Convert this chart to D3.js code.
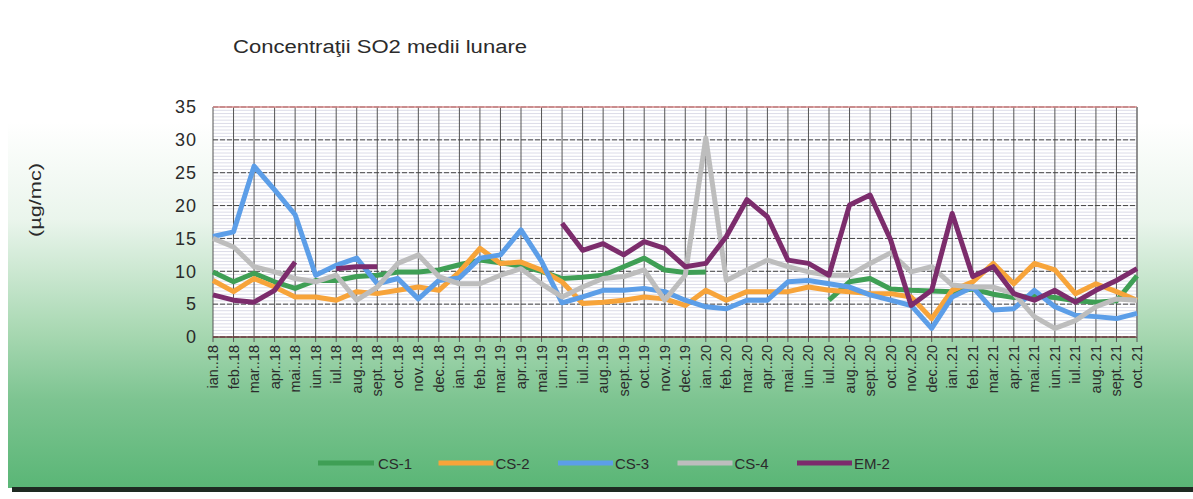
<!DOCTYPE html>
<html>
<head>
<meta charset="utf-8">
<script src="https://cdn.jsdelivr.net/npm/d3@7"></script>
<style>
  body { margin: 0; background: #fff; }
  text { font-family: "Liberation Sans", Arial, sans-serif; fill: #2b2b2b; }
</style>
</head>
<body>
<div class="graph-section"></div>
<script>
var months = ["ian..18","feb..18","mar..18","apr..18","mai..18","iun..18","iul..18","aug..18","sept..18","oct..18","nov..18","dec..18",
  "ian..19","feb..19","mar..19","apr..19","mai..19","iun..19","iul..19","aug..19","sept..19","oct..19","nov..19","dec..19",
  "ian..20","feb..20","mar..20","apr..20","mai..20","iun..20","iul..20","aug..20","sept..20","oct..20","nov..20","dec..20",
  "ian..21","feb..21","mar..21","apr..21","mai..21","iun..21","iul..21","aug..21","sept..21","oct..21"];

var cs1 = [9.9,8.4,9.7,8.4,7.4,8.6,8.6,9.2,9.4,9.9,9.9,10.2,
  11.0,11.7,11.3,10.8,10.0,8.9,9.1,9.4,10.7,12.0,10.2,9.8,
  9.9,null,null,null,null,null,5.6,8.4,8.9,7.3,7.1,7.0,
  6.9,7.3,6.5,6.0,6.2,6.0,5.5,5.3,5.5,9.3];
var cs2 = [8.6,6.9,8.9,7.6,6.1,6.1,5.6,6.9,6.6,7.1,7.6,7.1,
  9.9,13.5,11.2,11.4,10.2,8.4,5.1,5.3,5.6,6.1,5.8,4.8,
  7.1,5.6,6.9,6.9,6.9,7.6,7.1,6.9,6.6,6.6,6.1,2.8,
  7.1,8.4,11.2,8.1,11.2,10.2,6.6,8.1,6.9,5.6];
var cs3 = [15.3,16.0,26.0,22.4,18.6,9.4,10.9,12.0,8.1,8.9,5.8,8.6,
  9.0,12.0,12.5,16.3,11.5,5.2,6.1,7.1,7.1,7.4,6.9,5.6,
  4.6,4.3,5.6,5.6,8.4,8.6,8.1,7.6,6.4,5.6,4.8,1.3,
  6.1,7.6,4.1,4.3,7.1,4.6,3.3,3.1,2.8,3.6];
var cs4 = [15.0,13.7,10.7,9.9,8.9,8.4,9.4,5.6,7.6,11.2,12.5,9.2,
  8.1,8.1,9.4,10.4,8.1,6.1,7.6,8.9,9.2,10.2,5.6,9.4,
  30.3,8.6,10.2,11.7,10.7,9.9,9.4,9.4,11.2,12.8,9.9,10.7,
  7.9,7.6,7.6,6.6,3.1,1.3,2.5,4.6,5.8,5.6];
var em2 = [6.4,5.6,5.3,7.1,11.4,null,10.4,10.7,10.7,null,null,null,
  null,null,null,null,null,17.3,13.2,14.2,12.5,14.5,13.5,10.7,
  11.2,15.3,20.9,18.3,11.7,11.2,9.4,20.1,21.6,14.8,4.8,7.1,
  18.8,9.2,10.7,6.6,5.6,7.1,5.3,7.1,8.6,10.4];

var seriesNames = ["CS-1","CS-2","CS-3","CS-4","EM-2"];
var seriesColors = ["#3f9f55","#f7a43a","#5c9ee8","#bdbdbd","#7c2c6c"];
var seriesValues = [cs1, cs2, cs3, cs4, em2];
var yTicks = [0,5,10,15,20,25,30,35];

var screen = {width:1193, height:499};
var margins = {top:107, left:213, right:56, bottom:162};

var graphWidth = screen.width - margins.left - margins.right;
var graphHeight = screen.height - margins.top - margins.bottom;

var svg = d3.select(".graph-section")
            .append("svg")
            .attr("width", screen.width)
            .attr("height", screen.height);

// page background: white fading into green
var defs = svg.append("defs");
var grad = defs.append("linearGradient")
               .attr("id", "bg")
               .attr("x1", 0).attr("y1", 0).attr("x2", 0).attr("y2", 1);
grad.append("stop").attr("offset", "0%").attr("stop-color", "#ffffff");
grad.append("stop").attr("offset", "25%").attr("stop-color", "#ffffff");
grad.append("stop").attr("offset", "45%").attr("stop-color", "#eaf5ec");
grad.append("stop").attr("offset", "68%").attr("stop-color", "#a8d8b2");
grad.append("stop").attr("offset", "82%").attr("stop-color", "#7dc491");
grad.append("stop").attr("offset", "100%").attr("stop-color", "#5ab676");

svg.append("rect")
   .attr("x", 8)
   .attr("width", screen.width - 8)
   .attr("height", 488)
   .attr("fill", "url(#bg)");
svg.append("rect")
   .attr("x", 12)
   .attr("y", 487)
   .attr("width", screen.width - 12)
   .attr("height", 5)
   .attr("fill", "#1e2a22");

var xScale = d3.scalePoint()
               .domain(d3.range(months.length))
               .range([0, graphWidth]);

var yScale = d3.scaleLinear()
               .domain([0, 35])
               .range([graphHeight, 0]);

var plotLand = svg.append("g")
                  .attr("transform", "translate(" + margins.left + "," + margins.top + ")");

plotLand.append("rect")
        .attr("width", graphWidth)
        .attr("height", graphHeight)
        .attr("fill", "#ffffff");

// minor horizontal lines
plotLand.selectAll(".minor")
        .data(d3.range(0, 35.01, 0.5))
        .enter()
        .append("line")
        .attr("x1", 0).attr("x2", graphWidth)
        .attr("y1", function(d){return yScale(d);})
        .attr("y2", function(d){return yScale(d);})
        .attr("stroke", "#dcdce8")
        .attr("stroke-width", 1);

// vertical grid
plotLand.selectAll(".vgrid")
        .data(d3.range(months.length))
        .enter()
        .append("line")
        .attr("x1", function(d){return xScale(d);})
        .attr("x2", function(d){return xScale(d);})
        .attr("y1", 0).attr("y2", graphHeight + 5)
        .attr("stroke", "#555")
        .attr("stroke-width", 1);

// major horizontal lines
plotLand.selectAll(".major")
        .data(yTicks)
        .enter()
        .append("line")
        .attr("x1", 0).attr("x2", graphWidth)
        .attr("y1", function(d){return yScale(d);})
        .attr("y2", function(d){return yScale(d);})
        .attr("stroke", "#444")
        .attr("stroke-dasharray", "5,2")
        .attr("stroke-width", 1);

plotLand.append("line")
        .attr("x1", 0).attr("x2", graphWidth)
        .attr("y1", 0).attr("y2", 0)
        .attr("stroke", "#d88a8a").attr("stroke-width", 1.5);
plotLand.append("line")
        .attr("x1", 0).attr("x2", graphWidth)
        .attr("y1", graphHeight).attr("y2", graphHeight)
        .attr("stroke", "#6b3b3b").attr("stroke-width", 1.5);
plotLand.append("line")
        .attr("x1", graphWidth).attr("x2", graphWidth)
        .attr("y1", 0).attr("y2", graphHeight)
        .attr("stroke", "#888").attr("stroke-width", 1.5);

var line = d3.line()
             .defined(function(d){return d != null;})
             .x(function(d, i){return xScale(i);})
             .y(function(d){return yScale(d);});

plotLand.selectAll(".series")
        .data(seriesValues)
        .enter()
        .append("path")
        .attr("d", function(d){return line(d);})
        .attr("fill", "none")
        .attr("stroke", function(d, i){return seriesColors[i];})
        .attr("stroke-width", 5)
        .attr("stroke-linejoin", "round");

// y axis labels
var yAxis = d3.axisLeft(yScale).tickValues(yTicks).tickSize(0).tickPadding(16);
var yG = plotLand.append("g").call(yAxis);
yG.select(".domain").remove();
yG.selectAll("text")
  .style("font-size", "18px")
  .style("letter-spacing", "1px")
  .style("font-family", "\"Liberation Sans\", Arial, sans-serif")
  .attr("fill", "#2b2b2b");

// x axis labels
var xG = plotLand.append("g")
                 .attr("transform", "translate(0," + graphHeight + ")");
xG.selectAll("text")
  .data(months)
  .enter()
  .append("text")
  .attr("transform", function(d, i){
    return "translate(" + (xScale(i) + 5) + ",8) rotate(-90)";
  })
  .attr("text-anchor", "end")
  .style("font-size", "14.5px")
  .text(function(d){return d;});

svg.append("text")
   .attr("transform", "translate(41,200) rotate(-90)")
   .attr("text-anchor", "middle")
   .attr("textLength", 74)
   .attr("lengthAdjust", "spacingAndGlyphs")
   .style("font-size", "17px")
   .text("(µg/mc)");

svg.append("text")
   .attr("x", 233)
   .attr("y", 53)
   .attr("textLength", 294)
   .attr("lengthAdjust", "spacingAndGlyphs")
   .style("font-size", "18px")
   .text("Concentraţii SO2 medii lunare");

// legend
var legend = svg.append("g")
                .attr("transform", "translate(318,463)");
var legendLines = legend.selectAll("g")
                        .data(seriesNames)
                        .enter()
                        .append("g")
                        .attr("transform", function(d, i){return "translate(" + (i * 119.5) + ",0)";});
legendLines.append("line")
           .attr("x1", function(d, i){return i == 0 ? 0 : 1;})
           .attr("x2", 56)
           .attr("y1", 0).attr("y2", 0)
           .attr("stroke", function(d, i){return seriesColors[i];})
           .attr("stroke-width", 5);
legendLines.append("text")
           .attr("x", function(d, i){return i == 0 ? 60 : 58;})
           .attr("y", 6)
           .style("font-size", "15px")
           .text(function(d){return d;});
</script>
</body>
</html>
